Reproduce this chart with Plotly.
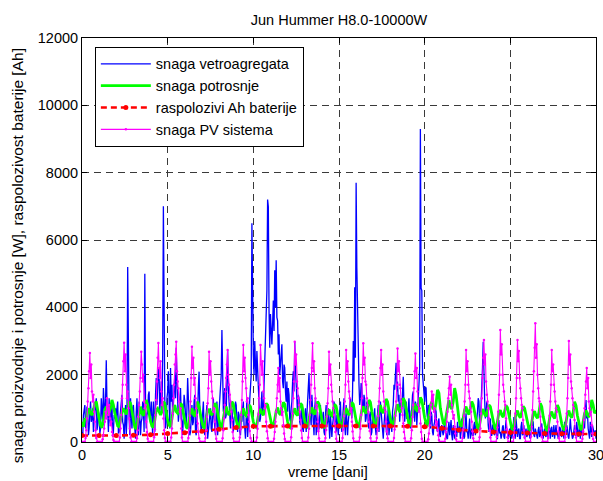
import plotly.graph_objects as go

# ---------------- data: hourly samples (24 per day) ----------------
wind_power = [
    300, 150, 800, 1000, 1100, 400, 600, 1050, 900, 200, 400, 850, 1200, 600, 700, 1000, 300, 650, 900, 1150, 1300, 350, 500, 900,
    800, 250, 400, 1300, 1000, 600, 1600, 900, 700, 1200, 2430, 1100, 900, 300, 1300, 700, 500, 1000, 1100, 200, 300, 800, 700, 1000,
    600, 1000, 1200, 250, 300, 700, 900, 1300, 1400, 600, 500, 100, 800, 1100, 200, 700, 5200, 900, 700, 200, 1300, 800, 400, 1000,
    1100, 700, 300, 100, 900, 1300, 600, 200, 1200, 800, 200, 600, 700, 1200, 1000, 300, 5000, 1100, 400, 800, 900, 1400, 1500, 700,
    800, 1200, 500, 200, 1200, 900, 300, 1400, 1900, 1100, 1600, 2200, 2000, 900, 1300, 1800, 900, 2500, 7000, 1500, 1200, 400, 600, 1300,
    1500, 2100, 900, 400, 2200, 1200, 1700, 800, 1100, 1600, 2000, 1300, 2800, 1900, 1400, 600, 900, 1300, 1600, 700, 600, 200, 1000, 1400,
    1200, 700, 400, 1000, 1900, 1300, 800, 200, 300, 900, 1100, 500, 600, 1200, 1400, 300, 200, 700, 900, 1600, 2090, 1000, 700, 300,
    500, 900, 1200, 400, 200, 600, 800, 1100, 100, 400, 600, 1000, 1000, 400, 300, 800, 1300, 700, 500, 200, 900, 1200, 200, 600,
    700, 1100, 1400, 2000, 3330, 1500, 900, 1300, 1600, 700, 800, 1900, 2730, 1600, 1200, 500, 400, 900, 1000, 600, 300, 700, 800, 1200,
    1100, 600, 300, 900, 800, 300, 200, 700, 600, 1000, 1200, 500, 400, 100, 900, 1300, 150, 500, 700, 1100, 1400, 2000, 6500, 3000,
    2600, 2000, 3000, 2300, 1800, 2700, 2200, 1400, 1200, 600, 700, 1200, 1500, 800, 900, 1700, 2400, 3100, 3500, 4500, 7200, 6990, 3900, 2800,
    3800, 3000, 2900, 3500, 4200, 3300, 5100, 4000, 5400, 3700, 3600, 2600, 3200, 2000, 2400, 2900, 2900, 1800, 1600, 2300, 2200, 1500, 1200, 1800,
    900, 1600, 1400, 700, 600, 1000, 1200, 1800, 2100, 1500, 2980, 2200, 1700, 1100, 800, 1400, 1300, 600, 500, 900, 1000, 400, 300, 800,
    700, 1000, 300, 800, 1200, 1600, 2050, 1100, 800, 500, 1400, 900, 500, 200, 1000, 1300, 200, 600, 900, 300, 400, 800, 1100, 600,
    400, 700, 900, 300, 200, 800, 1100, 500, 600, 1000, 300, 100, 800, 400, 150, 500, 700, 1200, 1000, 400, 300, 800, 600, 200,
    600, 1000, 1200, 500, 300, 700, 900, 1300, 500, 200, 1100, 700, 200, 600, 800, 1200, 1300, 900, 700, 1500, 3000, 1800, 4600, 2500,
    7700, 5170, 3500, 2200, 1700, 1100, 1300, 1750, 1600, 1000, 900, 1400, 1250, 600, 700, 1200, 1100, 500, 400, 800, 900, 200, 300, 700,
    500, 800, 1000, 400, 200, 600, 800, 1100, 300, 700, 1200, 900, 600, 200, 100, 500, 900, 1100, 400, 200, 700, 1000, 200, 500,
    800, 500, 300, 900, 1100, 1700, 1550, 2000, 2350, 1500, 1800, 1200, 1400, 600, 900, 1300, 1000, 1600, 1940, 1100, 600, 900, 1200, 700,
    700, 1000, 1300, 600, 400, 900, 1000, 1400, 1500, 900, 600, 1200, 1100, 500, 800, 1300, 1700, 2200, 9300, 4570, 4500, 2000, 1600, 1200,
    1200, 1640, 1600, 900, 700, 1100, 1000, 500, 400, 900, 800, 300, 200, 500, 600, 1000, 900, 400, 300, 600, 700, 200, 150, 400,
    500, 300, 200, 450, 650, 250, 300, 100, 100, 400, 600, 200, 400, 650, 200, 50, 500, 300, 100, 400, 350, 150, 600, 300,
    300, 500, 100, 300, 700, 400, 400, 100, 150, 600, 850, 300, 300, 100, 500, 700, 100, 300, 400, 200, 200, 500, 600, 200,
    400, 700, 900, 1300, 1200, 500, 600, 1100, 1500, 2200, 2980, 1600, 1300, 700, 800, 1200, 1100, 500, 300, 600, 700, 200, 200, 500,
    500, 300, 200, 450, 400, 100, 100, 350, 650, 250, 300, 100, 200, 450, 500, 150, 100, 400, 650, 300, 300, 100, 150, 400,
    300, 500, 100, 250, 500, 740, 200, 100, 700, 400, 150, 350, 400, 100, 100, 450, 600, 200, 250, 500, 100, 300, 400, 150,
    200, 400, 500, 150, 100, 300, 350, 600, 600, 200, 150, 400, 300, 100, 100, 350, 450, 150, 200, 500, 550, 250, 100, 300,
    400, 200, 150, 450, 300, 100, 600, 300, 100, 400, 450, 150, 250, 500, 100, 300, 500, 200, 300, 100, 150, 450, 400, 200,
    150, 400, 350, 100, 600, 300, 200, 500, 400, 150, 100, 350, 700, 400, 300, 100, 150, 450, 500, 200, 200, 600, 350, 150,
    300, 500, 100, 350, 500, 200, 200, 600, 400, 900, 1250, 700, 900, 400, 300, 100, 600, 300, 150, 500, 400, 200, 200, 350,
    100,
]

pv_power = [
    0, 0, 0, 0, 0, 120, 350, 700, 1200, 1600, 2100, 2640, 1900, 2300, 1500, 1200, 1400, 900, 600, 350, 120, 0, 0, 0,
    0, 0, 0, 0, 0, 80, 200, 400, 600, 900, 700, 1300, 1000, 800, 1100, 700, 500, 600, 300, 200, 60, 0, 0, 0,
    0, 0, 0, 0, 0, 130, 400, 800, 1300, 1700, 2400, 2950, 2100, 2600, 1700, 1300, 1500, 1000, 700, 400, 130, 0, 0, 0,
    0, 0, 0, 0, 0, 110, 350, 750, 1100, 1500, 1900, 2680, 2300, 1800, 2000, 1200, 1000, 1100, 600, 300, 100, 0, 0, 0,
    0, 0, 0, 0, 0, 140, 380, 800, 1250, 1800, 2500, 2940, 2200, 1900, 2400, 1500, 1100, 1300, 700, 350, 120, 0, 0, 0,
    0, 0, 0, 0, 0, 130, 400, 850, 1300, 1700, 2300, 2600, 2980, 2100, 1800, 1600, 1200, 900, 1000, 400, 130, 0, 0, 0,
    0, 0, 0, 0, 0, 120, 370, 780, 1200, 1900, 2830, 2200, 2500, 1700, 1900, 1300, 1000, 800, 550, 300, 110, 0, 0, 0,
    0, 0, 0, 0, 0, 120, 360, 750, 1150, 1600, 2680, 2000, 2400, 1800, 1500, 1300, 900, 1000, 600, 320, 100, 0, 0, 0,
    0, 0, 0, 0, 0, 110, 350, 700, 1100, 1500, 1900, 2300, 2730, 2000, 1700, 1400, 1200, 900, 650, 300, 110, 0, 0, 0,
    0, 0, 0, 0, 0, 130, 380, 800, 1250, 1800, 2880, 2100, 2500, 1900, 1600, 1200, 1300, 800, 600, 330, 120, 0, 0, 0,
    0, 0, 0, 0, 0, 130, 390, 820, 1300, 1700, 2880, 2300, 2000, 2400, 1500, 1300, 1000, 1100, 600, 320, 110, 0, 0, 0,
    0, 0, 0, 0, 0, 100, 300, 600, 900, 1300, 1700, 2200, 1500, 1900, 1200, 1000, 800, 900, 500, 250, 90, 0, 0, 0,
    0, 0, 0, 0, 0, 140, 400, 850, 1300, 1800, 2980, 2300, 2600, 1800, 1600, 1300, 1100, 900, 650, 340, 120, 0, 0, 0,
    0, 0, 0, 0, 0, 130, 390, 800, 1250, 1700, 2200, 2930, 2100, 2400, 1600, 1300, 1000, 1100, 600, 320, 110, 0, 0, 0,
    0, 0, 0, 0, 0, 120, 360, 760, 1150, 1600, 2680, 2000, 2300, 1700, 1500, 1200, 1000, 800, 550, 300, 100, 0, 0, 0,
    0, 0, 0, 0, 0, 120, 370, 770, 1200, 1700, 2730, 2100, 2400, 1800, 1500, 1300, 900, 1000, 600, 310, 110, 0, 0, 0,
    0, 0, 0, 0, 0, 130, 390, 800, 1300, 1900, 2930, 2300, 2500, 1800, 1700, 1300, 1100, 900, 600, 330, 120, 0, 0, 0,
    0, 0, 0, 0, 0, 120, 370, 770, 1200, 1600, 2200, 2730, 2000, 2300, 1500, 1200, 1000, 900, 600, 310, 110, 0, 0, 0,
    0, 0, 0, 0, 0, 120, 370, 780, 1200, 1700, 2780, 2100, 2400, 1700, 1600, 1200, 1000, 800, 550, 300, 110, 0, 0, 0,
    0, 0, 0, 0, 0, 110, 350, 740, 1100, 1600, 2100, 2630, 1900, 2200, 1500, 1100, 900, 1000, 550, 300, 100, 0, 0, 0,
    0, 0, 0, 0, 0, 80, 250, 500, 800, 1100, 1500, 1200, 1400, 900, 1000, 700, 500, 600, 350, 200, 60, 0, 0, 0,
    0, 0, 0, 0, 0, 100, 300, 600, 900, 1300, 1600, 1940, 1400, 1700, 1100, 900, 700, 800, 450, 250, 80, 0, 0, 0,
    0, 0, 0, 0, 0, 120, 370, 780, 1200, 1700, 2730, 2100, 2400, 1700, 1500, 1300, 1000, 900, 600, 310, 110, 0, 0, 0,
    0, 0, 0, 0, 0, 140, 400, 850, 1300, 1900, 2500, 3030, 2300, 2600, 1800, 1400, 1200, 1000, 700, 350, 130, 0, 0, 0,
    0, 0, 0, 0, 0, 150, 430, 900, 1400, 2000, 3330, 2600, 2900, 2000, 1700, 1500, 1200, 1100, 700, 380, 140, 0, 0, 0,
    0, 0, 0, 0, 0, 140, 400, 850, 1300, 1900, 3030, 2400, 2700, 1900, 1600, 1300, 1100, 1000, 650, 350, 130, 0, 0, 0,
    0, 0, 0, 0, 0, 160, 450, 950, 1500, 2100, 2800, 3530, 2500, 2900, 2000, 1600, 1300, 1200, 750, 400, 150, 0, 0, 0,
    0, 0, 0, 0, 0, 120, 370, 780, 1200, 1700, 2730, 2100, 2300, 1700, 1500, 1200, 1000, 900, 600, 310, 110, 0, 0, 0,
    0, 0, 0, 0, 0, 140, 400, 850, 1300, 1900, 3000, 2300, 2600, 1800, 1600, 1300, 1100, 1000, 650, 340, 130, 0, 0, 0,
    0, 0, 0, 0, 0, 100, 320, 650, 1000, 1400, 1800, 2200, 1600, 1900, 1200, 1000, 800, 900, 500, 260, 90, 0, 0, 0,
    0,
]

# consumption, 2-hour samples (12 per day)
load_power = [
    600, 450, 700, 650, 900, 1000, 850, 800, 950, 1150, 1200, 900,
    700, 500, 420, 650, 950, 1050, 800, 900, 1000, 1250, 1100, 850,
    650, 480, 450, 700, 880, 1000, 900, 820, 1000, 1200, 1150, 900,
    600, 430, 400, 620, 900, 1050, 850, 780, 950, 1250, 1100, 800,
    620, 470, 430, 650, 950, 1000, 880, 800, 900, 1200, 1150, 850,
    650, 500, 450, 700, 1000, 1100, 900, 850, 950, 1150, 1100, 850,
    600, 450, 400, 650, 900, 1000, 820, 760, 950, 1200, 1050, 800,
    580, 440, 420, 680, 920, 980, 850, 800, 1000, 1150, 1100, 820,
    640, 470, 450, 700, 950, 1050, 870, 800, 950, 1200, 1120, 860,
    620, 460, 420, 660, 900, 1000, 820, 780, 930, 1100, 1050, 800,
    600, 450, 430, 650, 880, 980, 850, 800, 950, 1150, 1100, 850,
    630, 480, 440, 680, 920, 1020, 860, 810, 980, 1180, 1120, 840,
    600, 450, 420, 660, 900, 1000, 830, 790, 960, 1150, 1100, 830,
    620, 470, 440, 680, 930, 1030, 870, 820, 990, 1200, 1130, 860,
    600, 450, 430, 650, 880, 970, 820, 780, 940, 1120, 1060, 820,
    610, 470, 430, 670, 910, 1010, 850, 800, 970, 1180, 1120, 850,
    640, 490, 460, 700, 950, 1060, 900, 850, 1000, 1250, 1180, 900,
    660, 500, 470, 720, 980, 1100, 920, 860, 1020, 1280, 1200, 920,
    680, 520, 480, 740, 1000, 1120, 940, 880, 1050, 1300, 1220, 940,
    700, 530, 500, 760, 1020, 1140, 960, 900, 1080, 1320, 1250, 960,
    720, 550, 520, 800, 1080, 1200, 1000, 950, 1150, 1550, 1450, 1000,
    750, 560, 530, 820, 1100, 1250, 1050, 980, 1200, 1600, 1400, 950,
    680, 500, 460, 720, 950, 1050, 880, 820, 980, 1200, 1100, 850,
    600, 430, 400, 640, 880, 980, 820, 760, 920, 1100, 1050, 800,
    560, 420, 380, 620, 860, 950, 800, 740, 900, 1080, 1020, 780,
    550, 400, 360, 600, 840, 930, 780, 720, 880, 1060, 1000, 760,
    540, 390, 340, 580, 830, 920, 770, 710, 870, 1150, 1050, 760,
    530, 380, 330, 570, 820, 900, 760, 700, 860, 1100, 1000, 750,
    540, 390, 350, 590, 840, 930, 780, 720, 880, 1200, 1080, 780,
    550, 400, 360, 600, 850, 940, 800, 740, 900, 1250, 1100, 850,
    950,
]

# battery state, one value per day (day 0 .. 30)
battery_days = list(range(31))
battery_ah = [190, 190, 195, 200, 215, 250, 275, 320, 380, 430, 465,
              470, 475, 478, 478, 478, 478, 478, 475, 470, 455, 410,
              360, 325, 300, 280, 265, 255, 245, 240, 235]

time_hourly = [i / 24 for i in range(len(wind_power))]
time_2h = [i / 12 for i in range(len(load_power))]

title_text = "Jun Hummer H8.0-10000W"
x_label = "vreme [dani]"
y_label = "snaga proizvodnje i potrosnje [W], raspolozivost baterije [Ah]"
x_ticks = [0, 5, 10, 15, 20, 25, 30]
y_ticks = [0, 2000, 4000, 6000, 8000, 10000, 12000]

FONT = "Liberation Sans, Arial, sans-serif"

fig = go.Figure()
fig.add_trace(go.Scatter(x=time_hourly, y=wind_power, mode="lines",
                         name="snaga vetroagregata",
                         line=dict(color="#0000ff", width=1.3)))
fig.add_trace(go.Scatter(x=time_2h, y=load_power, mode="lines",
                         name="snaga potrosnje",
                         line=dict(color="#00ff00", width=2.8)))
fig.add_trace(go.Scatter(x=battery_days, y=battery_ah, mode="lines+markers",
                         name="raspolozivi Ah baterije",
                         line=dict(color="#ff0000", width=2.6, dash="6px,4px"),
                         marker=dict(color="#ff0000", size=5)))
fig.add_trace(go.Scatter(x=time_hourly, y=pv_power, mode="lines+markers",
                         name="snaga PV sistema",
                         line=dict(color="#ff00ff", width=1.1),
                         marker=dict(color="#ff00ff", size=2.5)))

axis_common = dict(
    showline=True, linecolor="black", linewidth=1, mirror="ticks",
    ticks="inside", ticklen=5, tickcolor="black",
    showgrid=True, gridcolor="#3a3a3a", gridwidth=1, griddash="7px,5px",
    zeroline=False, ticklabeloverflow="allow", automargin=False,
    tickfont=dict(family=FONT, size=14.5, color="black"),
)

fig.update_layout(
    width=603, height=481,
    margin=dict(l=82, r=7, t=38, b=39),
    paper_bgcolor="white", plot_bgcolor="white",
    font=dict(family=FONT, size=14.5, color="black"),
    title=dict(text=title_text, x=0.5, xref="paper", xanchor="center",
               y=0.958, yanchor="middle",
               font=dict(family=FONT, size=14.5, color="black")),
    xaxis=dict(range=[0, 30], tickvals=x_ticks, **axis_common),
    yaxis=dict(range=[0, 12000], tickvals=y_ticks, tickformat="d",
               **axis_common),
    legend=dict(x=0.025, y=0.978, xanchor="left", yanchor="top",
                bgcolor="white", bordercolor="black", borderwidth=1,
                font=dict(family=FONT, size=14.5, color="black"),
                tracegroupgap=0, itemwidth=50),
    showlegend=True,
    annotations=[
        dict(text=y_label, textangle=-90, showarrow=False,
             xref="paper", yref="paper",
             x=-0.1265, y=0.462, xanchor="center", yanchor="middle",
             font=dict(family=FONT, size=15.5, color="black")),
        dict(text=x_label, showarrow=False,
             xref="paper", yref="paper",
             x=0.478, y=-0.0743, xanchor="center", yanchor="middle",
             font=dict(family=FONT, size=14.5, color="black")),
    ],
)

fig.write_html("out.html")
